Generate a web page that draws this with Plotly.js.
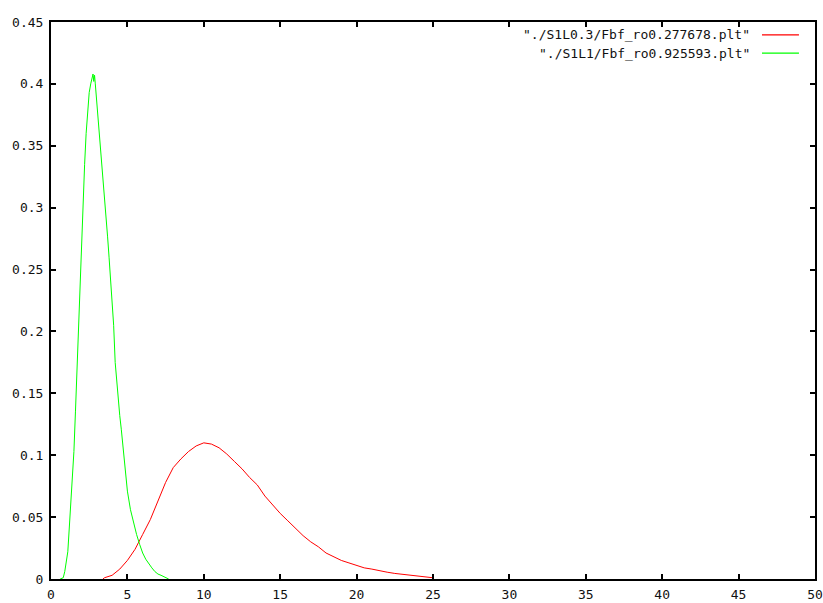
<!DOCTYPE html>
<html>
<head>
<meta charset="utf-8">
<script src="https://cdn.plot.ly/plotly-3.0.1.min.js"></script>
<style>html,body{margin:0;padding:0;background:#fff;}#chart{width:823px;height:603px;}</style>
</head>
<body>
<div id="chart"></div>
<script>
// Series 1: "./S1L0.3/Fbf_ro0.277678.plt" (red)
var redX = [3.4,3.5,4.0,4.5,5.0,5.5,6.0,6.5,7.0,7.5,8.0,8.5,9.0,9.5,10.0,10.5,11.0,11.5,12.0,12.5,13.0,13.5,14.0,14.5,15.0,15.5,16.0,16.5,17.0,17.5,18.0,18.5,19.0,19.5,20.0,20.5,21.0,21.5,22.0,22.5,23.0,23.5,24.0,24.5,25.0];
var redY = [0.000,0.001,0.003,0.008,0.015,0.024,0.036,0.048,0.063,0.078,0.090,0.097,0.103,0.1075,0.110,0.109,0.106,0.101,0.095,0.089,0.082,0.076,0.067,0.060,0.053,0.047,0.041,0.035,0.030,0.026,0.021,0.018,0.015,0.013,0.011,0.009,0.008,0.0065,0.0055,0.0045,0.0037,0.003,0.002,0.0015,0.001];
// Series 2: "./S1L1/Fbf_ro0.925593.plt" (green)
var greenX = [0.6,0.8,0.9,1.0,1.1,1.2,1.3,1.4,1.5,1.6,1.7,1.8,1.9,2.0,2.1,2.2,2.3,2.4,2.5,2.6,2.7,2.75,2.8,2.85,2.9,3.0,3.1,3.2,3.3,3.4,3.5,3.6,3.7,3.8,3.9,4.0,4.1,4.2,4.3,4.4,4.5,4.6,4.7,4.8,4.9,5.0,5.2,5.4,5.6,5.8,6.0,6.2,6.4,6.6,6.8,7.0,7.2,7.4,7.6,7.7];
var greenY = [0,0.001,0.006,0.013,0.022,0.042,0.062,0.085,0.103,0.135,0.170,0.205,0.242,0.280,0.310,0.335,0.360,0.380,0.393,0.400,0.404,0.408,0.402,0.407,0.400,0.385,0.371,0.358,0.344,0.327,0.311,0.295,0.277,0.260,0.243,0.225,0.205,0.175,0.160,0.143,0.132,0.121,0.108,0.094,0.083,0.071,0.056,0.045,0.036,0.028,0.021,0.016,0.012,0.009,0.006,0.004,0.003,0.002,0.001,0];
var seriesNames = ['"./S1L0.3/Fbf_ro0.277678.plt"', '"./S1L1/Fbf_ro0.925593.plt"'];
var seriesColors = ['#ff0000', '#00ff00'];

var font = {family: '"DejaVu Sans Mono", "Liberation Mono", monospace', size: 13, color: '#111'};

var traces = [
  {x: redX, y: redY, type: 'scatter', mode: 'lines', name: seriesNames[0], line: {color: seriesColors[0], width: 1}},
  {x: greenX, y: greenY, type: 'scatter', mode: 'lines', name: seriesNames[1], line: {color: seriesColors[1], width: 1}}
];

var legendY = [0.977, 0.944];
var annotations = [], shapes = [];
for (var i = 0; i < 2; i++) {
  annotations.push({xref: 'paper', yref: 'paper', x: 0.9175, y: legendY[i], xanchor: 'right', yanchor: 'middle',
    text: seriesNames[i], showarrow: false, font: font});
  shapes.push({type: 'line', xref: 'paper', yref: 'paper', x0: 0.9306, x1: 0.979, y0: legendY[i], y1: legendY[i],
    line: {color: seriesColors[i], width: 1.2}});
}

var axisCommon = {showline: true, linecolor: '#000', linewidth: 2, mirror: 'ticks', ticks: 'inside',
  ticklen: 5, tickwidth: 2, tickcolor: '#000', showgrid: false, zeroline: false, tickfont: font};

var layout = {
  width: 823, height: 603,
  margin: {l: 51, r: 8, t: 22, b: 24, pad: 0},
  paper_bgcolor: '#fff', plot_bgcolor: '#fff',
  showlegend: false,
  xaxis: Object.assign({range: [0, 50], dtick: 5, tick0: 0, ticklabelstandoff: 2}, axisCommon),
  yaxis: Object.assign({range: [0, 0.45], dtick: 0.05, tick0: 0, ticklabelstandoff: 3}, axisCommon),
  annotations: annotations,
  shapes: shapes
};

Plotly.newPlot('chart', traces, layout, {staticPlot: true, displayModeBar: false});
</script>
</body>
</html>
